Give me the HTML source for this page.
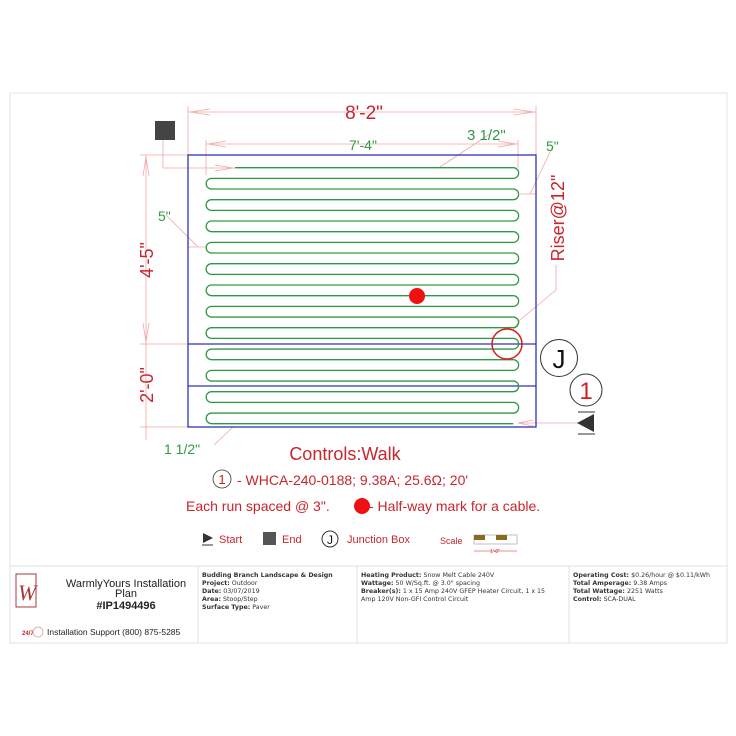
<!DOCTYPE html>
<html><head><meta charset="utf-8"><style>
html,body{margin:0;padding:0;background:#fff;}
svg{display:block;font-family:"Liberation Sans",sans-serif;}
.tb{font-family:"DejaVu Sans","Liberation Sans",sans-serif;font-size:6.3px;fill:#333;}
.tb b{font-weight:bold;}
</style></head><body>
<svg width="736" height="736" viewBox="0 0 736 736" xmlns="http://www.w3.org/2000/svg">
<rect x="10" y="93" width="717" height="550" fill="none" stroke="#e4e4e4" stroke-width="1"/>
<g stroke="#f2a6a6" stroke-width="0.8" fill="none">
<line x1="188" y1="112" x2="536" y2="112"/>
<line x1="188" y1="106" x2="188" y2="155"/><line x1="536" y1="106" x2="536" y2="155"/>
<polyline points="210,109 190,112 210,115"/><polyline points="514,109 534,112 514,115"/>
<line x1="206" y1="144" x2="518" y2="144"/>
<line x1="206" y1="140" x2="206" y2="175"/><line x1="518" y1="140" x2="518" y2="168"/>
<polyline points="226,141 208,144 226,147"/><polyline points="498,141 516,144 498,147"/>
<line x1="146" y1="155" x2="146" y2="440"/>
<line x1="140" y1="155" x2="188" y2="155"/><line x1="140" y1="344" x2="188" y2="344"/><line x1="140" y1="427" x2="188" y2="427"/>
<polyline points="143,176 146,157 149,176"/><polyline points="143,323 146,342 149,323"/>
<line x1="163" y1="140" x2="163" y2="168"/><line x1="163" y1="168" x2="235" y2="168"/>
<polyline points="215,165 233,168 215,171"/>
<line x1="490" y1="134" x2="440" y2="167"/>
<line x1="553" y1="146" x2="530" y2="194"/><line x1="520" y1="194" x2="536" y2="194"/>
<line x1="166" y1="215" x2="198" y2="247"/><line x1="188" y1="247" x2="206" y2="247"/>
<polyline points="556,265 556,290 520,320 513,330"/>
<line x1="518" y1="423" x2="580" y2="423"/>
<polyline points="533,420 518,423 533,426"/>
<line x1="233" y1="427" x2="214" y2="445"/>
</g>
<rect x="188" y="155" width="348" height="272" fill="none" stroke="#2b35b8" stroke-width="1.3"/>
<line x1="188" y1="344" x2="536" y2="344" stroke="#2b35b8" stroke-width="1.3"/>
<line x1="188" y1="386" x2="536" y2="386" stroke="#2b35b8" stroke-width="1.3"/>
<path id="cab" fill="none" stroke="#2f9a45" stroke-width="1.3" d=""/>
<script>
(function(){var y0=167.7,s=10.667,L=211.5,R=513.3,r=s/2;var d="M235,"+y0+" L"+R+","+y0;
for(var i=1;i<25;i++){var y=y0+i*s;if(i%2==1){d+=" A"+r+","+r+" 0 0 1 "+R+","+y+" L"+L+","+y;}else{d+=" A"+r+","+r+" 0 0 0 "+L+","+y+" L"+R+","+y;}}
document.getElementById("cab").setAttribute("d",d);})();
</script>
<circle cx="417" cy="296" r="8" fill="#ee1111"/>
<circle cx="507" cy="344" r="15" fill="none" stroke="#dd1a1a" stroke-width="1.5"/>
<circle cx="559" cy="358" r="18.5" fill="#fff" stroke="#333" stroke-width="1"/>
<text x="559" y="368" font-size="26" text-anchor="middle" fill="#111">J</text>
<circle cx="586" cy="390" r="16" fill="#fff" stroke="#333" stroke-width="1"/>
<text x="586" y="399" font-size="24" text-anchor="middle" fill="#d42020">1</text>
<rect x="155" y="121" width="20" height="19" fill="#444"/>
<polygon points="577,423 594,414 594,432" fill="#333"/>
<line x1="578" y1="412" x2="595" y2="412" stroke="#333"/><line x1="578" y1="434" x2="595" y2="434" stroke="#333"/>
<g fill="#c9252c">
<text x="364" y="119" font-size="19" text-anchor="middle">8'-2"</text>
<text transform="translate(153,260) rotate(-90)" font-size="18" text-anchor="middle">4'-5"</text>
<text transform="translate(153,385) rotate(-90)" font-size="18" text-anchor="middle">2'-0"</text>
<text transform="translate(564,218) rotate(-90)" font-size="18" text-anchor="middle">Riser@12"</text>
<text x="345" y="460" font-size="18" text-anchor="middle">Controls:Walk</text>
<text x="237" y="485" font-size="14">- WHCA-240-0188; 9.38A; 25.6Ω; 20'</text>
<text x="186" y="511" font-size="14">Each run spaced @ 3".</text>
<text x="369" y="511" font-size="14">- Half-way mark for a cable.</text>
<text x="219" y="543" font-size="11">Start</text>
<text x="282" y="543" font-size="11">End</text>
<text x="347" y="543" font-size="11">Junction Box</text>
<text x="440" y="544" font-size="9">Scale</text>
</g>
<g fill="#2f9a45">
<text x="363" y="150" font-size="14" text-anchor="middle">7'-4"</text>
<text x="467" y="140" font-size="15">3 1/2"</text>
<text x="546" y="151" font-size="14">5"</text>
<text x="158" y="221" font-size="14">5"</text>
<text x="164" y="454" font-size="14">1 1/2"</text>
</g>
<circle cx="222" cy="479" r="9" fill="none" stroke="#333" stroke-width="0.8"/>
<text x="222" y="484" font-size="13" text-anchor="middle" fill="#c9252c">1</text>
<circle cx="362" cy="506" r="8" fill="#ee1111"/>
<polygon points="203,533 213,538 203,543" fill="#333"/><line x1="202" y1="545" x2="213" y2="545" stroke="#333"/>
<rect x="263" y="532" width="13" height="13" fill="#555"/>
<circle cx="330" cy="539" r="8" fill="none" stroke="#333"/>
<text x="330" y="544" font-size="12" text-anchor="middle" fill="#111">J</text>
<rect x="474" y="535" width="43" height="9" fill="#fff" stroke="#999" stroke-width="0.6"/>
<rect x="474" y="535" width="11" height="5" fill="#8a6a20"/><rect x="496" y="535" width="11" height="5" fill="#8a6a20"/>
<line x1="474" y1="551" x2="517" y2="551" stroke="#c9252c" stroke-width="0.6"/>
<text x="495" y="553" font-size="5" text-anchor="middle" fill="#c9252c">1'-0"</text>
<rect x="10" y="566" width="717" height="77" fill="#fff" stroke="#e0e0e0"/>
<line x1="198" y1="566" x2="198" y2="643" stroke="#e0e0e0"/>
<line x1="357" y1="566" x2="357" y2="643" stroke="#e0e0e0"/>
<line x1="569" y1="566" x2="569" y2="643" stroke="#e0e0e0"/>
<rect x="16" y="574" width="20" height="33" fill="none" stroke="#a83a3a" stroke-width="1"/>
<text x="18" y="600" font-family="Liberation Serif,serif" font-style="italic" font-size="22" fill="#a83a3a">W</text>
<text x="126" y="587" font-size="11" text-anchor="middle" fill="#222">WarmlyYours Installation</text>
<text x="126" y="597" font-size="11" text-anchor="middle" fill="#222">Plan</text>
<text x="126" y="609" font-size="11" font-weight="bold" text-anchor="middle" fill="#222">#IP1494496</text>
<text x="22" y="635" font-size="6" font-weight="bold" fill="#c9252c">24/7</text>
<circle cx="38" cy="632" r="5" fill="none" stroke="#c99" stroke-width="0.7"/>
<text x="47" y="635" font-size="8.5" fill="#222">Installation Support (800) 875-5285</text>
<g class="tb">
<text x="202" y="577"><tspan font-weight="bold">Budding Branch Landscape &amp; Design</tspan></text>
<text x="202" y="585"><tspan font-weight="bold">Project:</tspan> Outdoor</text>
<text x="202" y="593"><tspan font-weight="bold">Date:</tspan> 03/07/2019</text>
<text x="202" y="601"><tspan font-weight="bold">Area:</tspan> Stoop/Step</text>
<text x="202" y="609"><tspan font-weight="bold">Surface Type:</tspan> Paver</text>
<text x="361" y="577"><tspan font-weight="bold">Heating Product:</tspan> Snow Melt Cable 240V</text>
<text x="361" y="585"><tspan font-weight="bold">Wattage:</tspan> 50 W/Sq.ft. @ 3.0" spacing</text>
<text x="361" y="593"><tspan font-weight="bold">Breaker(s):</tspan> 1 x 15 Amp 240V GFEP Heater Circuit, 1 x 15</text>
<text x="361" y="601">Amp 120V Non-GFI Control Circuit</text>
<text x="573" y="577"><tspan font-weight="bold">Operating Cost:</tspan> $0.26/hour @ $0.11/kWh</text>
<text x="573" y="585"><tspan font-weight="bold">Total Amperage:</tspan> 9.38 Amps</text>
<text x="573" y="593"><tspan font-weight="bold">Total Wattage:</tspan> 2251 Watts</text>
<text x="573" y="601"><tspan font-weight="bold">Control:</tspan> SCA-DUAL</text>
</g>
</svg>
</body></html>
